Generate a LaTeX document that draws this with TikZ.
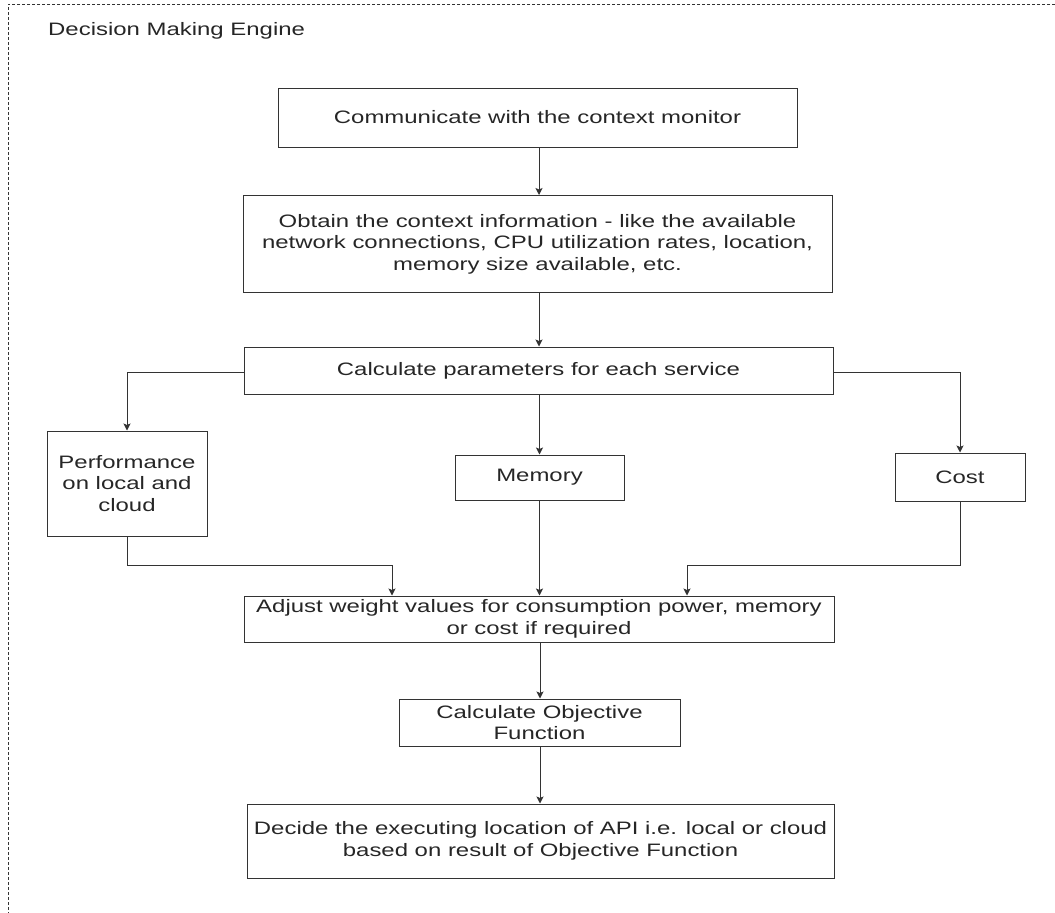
\documentclass[tikz,border=0pt]{standalone}
\usepackage{fontspec}
\setmainfont{Liberation Sans}[FakeStretch=1.33]
\usetikzlibrary{arrows.meta}
\definecolor{ink}{HTML}{262626}
\definecolor{edge}{HTML}{333333}
\begin{document}
\begin{tikzpicture}[x=1pt,y=-1pt,
  every node/.style={font=\fontsize{18}{21.6}\selectfont, text=ink},
  stepbox/.style={draw=edge, line width=1pt, align=center, inner sep=0pt},
  arr/.style={draw=edge, line width=1pt, -{Stealth[length=7pt,width=7pt,inset=1.5pt]}},
  frame/.style={draw=edge, line width=1pt, dash pattern=on 3pt off 2pt}]
  \useasboundingbox (0,0) rectangle (1055,913);
  % enclosing dashed container (open to the right and bottom)
  \draw[frame] (1055,4) -- (8,4) -- (8,913);
  \node[anchor=west, inner sep=0pt] (title) at (48,31) {Decision Making Engine};

  % process boxes
  \node[stepbox, minimum width=519pt, minimum height=59pt] (b1) at (537.5,117.5)
    {Communicate with the context monitor};
  \node[stepbox, minimum width=589pt, minimum height=97pt] (b2) at (537.5,244)
    {Obtain the context information - like the available\\
     network connections, CPU utilization rates, location,\\
     memory size available, etc.};
  \node[stepbox, minimum width=589pt, minimum height=47pt] (b3) at (538.5,370.5)
    {Calculate parameters for each service};
  \node[stepbox, minimum width=160pt, minimum height=105pt] (perf) at (127,483.5)
    {Performance\\ on local and\\ cloud};
  \node[stepbox, minimum width=169pt, minimum height=45pt] (mem) at (539.5,477.5)
    {Memory};
  \node[stepbox, minimum width=130pt, minimum height=48pt] (cost) at (960,477)
    {Cost};
  \node[stepbox, minimum width=590pt, minimum height=46pt] (adj) at (539,619)
    {Adjust weight values for consumption power, memory\\ or cost if required};
  \node[stepbox, minimum width=281pt, minimum height=47pt] (obj) at (539.5,722.5)
    {Calculate Objective\\ Function};
  \node[stepbox, minimum width=587pt, minimum height=74pt] (dec) at (540.5,841)
    {Decide the executing location of API i.e. local or cloud\\
     based on result of Objective Function};

  % joints where the side branches turn towards the merge box
  \coordinate (jl) at (392,565);
  \coordinate (jr) at (687,565);

  % connectors
  \draw[arr] (b1.south -| 539,0) -- (b2.north -| 539,0);
  \draw[arr] (b2.south -| 539,0) -- (b3.north -| 539,0);
  \draw[arr] (b3.west |- 0,372) -| (perf.north);
  \draw[arr] (b3.east |- 0,372) -| (cost.north);
  \draw[arr] (b3.south -| mem.north) -- (mem.north);
  \draw[arr] (perf.south) |- (jl) -- (jl |- adj.north);
  \draw[arr] (cost.south) |- (jr) -- (jr |- adj.north);
  \draw[arr] (mem.south) -- (mem.south |- adj.north);
  \draw[arr] (adj.south -| 540,0) -- (obj.north -| 540,0);
  \draw[arr] (obj.south -| 540,0) -- (dec.north -| 540,0);
\end{tikzpicture}
\end{document}
